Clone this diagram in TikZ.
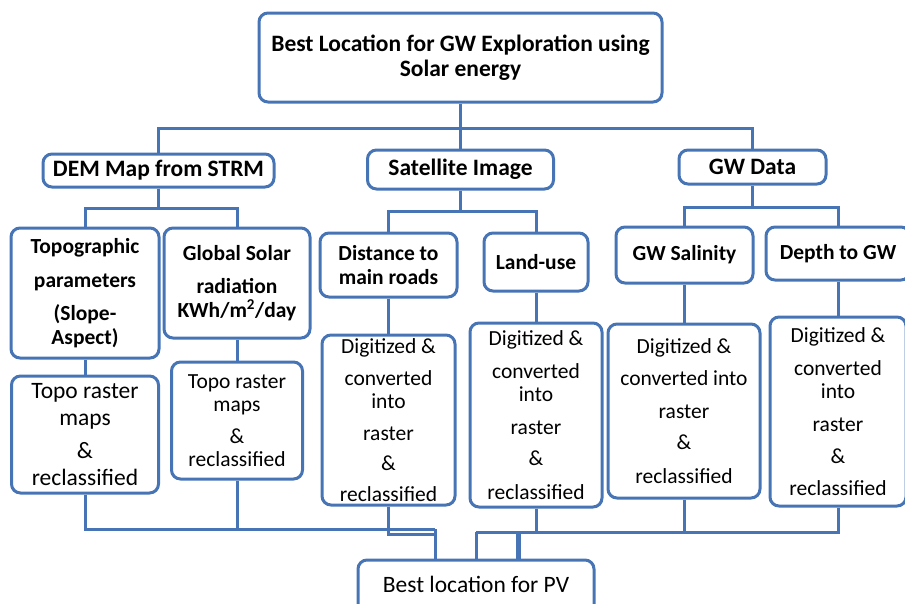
\documentclass[tikz,border=0pt]{standalone}
\usepackage{fontspec}
\setmainfont{Carlito}
\definecolor{bl}{RGB}{70,116,180}
\tikzset{
  box/.style={draw=bl, line width=3pt, rounded corners=9pt, inner sep=0pt, align=center, text=black},
  bigbf/.style={font=\bfseries\fontsize{23.5}{25}\selectfont},
  bf/.style={font=\bfseries\fontsize{21.5}{23.5}\selectfont},
  nf/.style={font=\fontsize{21.5}{23.5}\selectfont},
  bignf/.style={font=\fontsize{23.5}{27}\selectfont},
  conn/.style={draw=bl, line width=3pt},
}
\begin{document}
\begin{tikzpicture}[x=1pt,y=-1pt]
\useasboundingbox (0,0) rectangle (905,603);
% level 0
\node[box,bigbf,minimum width=403pt,minimum height=89pt] (top) at (460.5,57.5) {Best Location for GW Exploration using\\Solar energy};
% level 1
\node[box,bigbf,minimum width=231pt,minimum height=33pt] (dem) at (158.5,170.5) {DEM Map from STRM};
\node[box,bigbf,minimum width=186pt,minimum height=39pt] (sat) at (460.5,169.5) {Satellite Image};
\node[box,bigbf,minimum width=147pt,minimum height=34pt] (gwd) at (752.5,167) {GW Data};
% level 2
\node[box,bf,minimum width=148pt,minimum height=130pt] (topo) at (85,293) {Topographic\\[10pt]parameters\\[10pt](Slope-\\Aspect)};
\node[box,bf,minimum width=146pt,minimum height=110pt] (glob) at (237,283) {Global Solar\\[10pt]radiation\\KWh/m\textsuperscript{2}/day};
\node[box,bf,minimum width=137pt,minimum height=64pt] (dist) at (388.5,265) {Distance to\\main roads};
\node[box,bf,minimum width=104pt,minimum height=58pt] (land) at (536,262) {Land-use};
\node[box,bf,minimum width=137pt,minimum height=56pt] (sal) at (684.5,255) {GW Salinity};
\node[box,bf,minimum width=144pt,minimum height=53pt] (dep) at (838,253.5) {Depth to GW};
% level 3
\node[box,bignf,minimum width=147pt,minimum height=117pt] (r1) at (85,434.5) {Topo raster\\maps\\[6pt]\&\\reclassified};
\node[box,nf,minimum width=131pt,minimum height=117pt] (r2) at (237,420.5) {Topo raster\\maps\\[8pt]\&\\reclassified};
\node[box,nf,minimum width=133pt,minimum height=170pt] (dd) at (388.5,420) {Digitized \&\\[8pt]converted\\into\\[8pt]raster\\[7pt]\&\\[7pt]reclassified};
\node[box,nf,minimum width=132pt,minimum height=184pt] (dl) at (536,415) {Digitized \&\\[9pt]converted\\into\\[9pt]raster\\[8pt]\&\\[10pt]reclassified};
\node[box,nf,minimum width=152pt,minimum height=174pt] (ds) at (684,411) {Digitized \&\\[9pt]converted into\\[9pt]raster\\[8pt]\&\\[10pt]reclassified};
\node[box,nf,minimum width=136pt,minimum height=189pt] (dp) at (838,411.5) {Digitized \&\\[9pt]converted\\into\\[9pt]raster\\[9pt]\&\\[8pt]reclassified};
% bottom
\node[box,bignf,minimum width=236pt,minimum height=54pt] (pv) at (476,587) {\raisebox{5pt}{Best location for PV}};
% connectors top
\coordinate (busT) at (460.5,128);
\draw[conn] (top.south) -- (sat.north);
\draw[conn] (dem.north) |- (busT) -| (gwd.north);
\coordinate (busD) at (158.5,208);
\draw[conn] (dem.south) -- (busD);
\draw[conn] (topo.north) |- (busD) -| (glob.north);
\coordinate (busS) at (460.5,211);
\draw[conn] (sat.south) -- (busS);
\draw[conn] (dist.north) |- (busS) -| (land.north);
\coordinate (busG) at (752.5,207);
\draw[conn] (gwd.south) -- (busG);
\draw[conn] (sal.north) |- (busG) -| (dep.north);
% level 2 to 3
\draw[conn] (topo.south) -- (r1.north);
\draw[conn] (glob.south) -- (r2.north);
\draw[conn] (dist.south) -- (dd.north);
\draw[conn] (land.south) -- (dl.north);
\draw[conn] (sal.south) -- (sal.south |- ds.north);
\draw[conn] (dep.south) -- (dp.north);
% bottom bus
\coordinate (jL) at (435,529);
\coordinate (jD) at (435,534);
\coordinate (jR) at (476,532);
\coordinate (jR2) at (518,532);
\draw[conn] (r1.south) |- (jL);
\draw[conn] (r2.south) -- (r2.south |- jL);
\draw[conn] (dd.south) |- (jD);
\draw[conn] (jL) -- (jL |- pv.north);
\draw[conn] (dp.south) |- (jR);
\draw[conn] (dl.south) -- (dl.south |- jR);
\draw[conn] (ds.south) -- (ds.south |- jR);
\draw[conn] (jR) -- (jR |- pv.north);
\draw[conn,line width=5pt] (jR2) -- (jR2 |- pv.north);
\end{tikzpicture}
\end{document}
